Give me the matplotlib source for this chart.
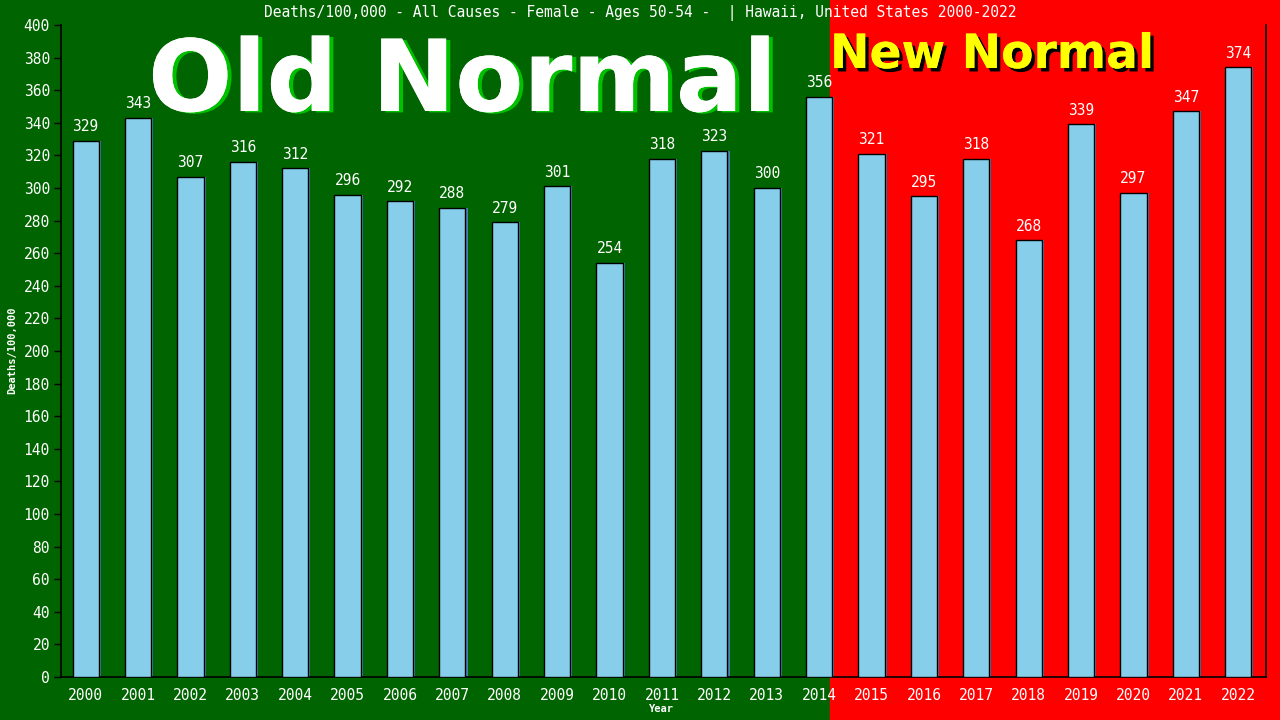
import matplotlib.pyplot as plt
import matplotlib.patheffects as pe
from matplotlib.patches import Rectangle

years = list(range(2000, 2023))
deaths = [329, 343, 307, 316, 312, 296, 292, 288, 279, 301, 254, 318,
          323, 300, 356, 321, 295, 318, 268, 339, 297, 347, 374]
title = "Deaths/100,000 - All Causes - Female - Ages 50-54 -  | Hawaii, United States 2000-2022"

W, H = 1280, 720
fig = plt.figure(figsize=(12.8, 7.2), dpi=100, facecolor='#006400')
fig.patches.append(Rectangle((830 / W, 0), 1 - 830 / W, 1, transform=fig.transFigure,
                             color='#ff0000', zorder=-5))

ax = fig.add_axes([61 / W, 43 / H, 1205 / W, 652 / H])
ax.set_facecolor('none')
x = list(range(len(years)))
ax.bar([i + 0.04 for i in x], deaths, width=0.5, color='#4682b4', zorder=2)
ax.bar(x, deaths, width=0.5, color='#87ceeb', edgecolor='black', linewidth=1, zorder=3)
for i, v in zip(x, deaths):
    ax.text(i, v + 4, str(v), ha='center', va='bottom', color='white',
            family='DejaVu Sans Mono', fontsize=10.5, zorder=4)

ax.set_xlim(-0.47, 22.53)
ax.set_ylim(0, 400)
ax.set_yticks(range(0, 401, 20))
ax.set_xticks(x)
ax.set_xticklabels([str(y) for y in years])
for lab in ax.get_xticklabels() + ax.get_yticklabels():
    lab.set_family('DejaVu Sans Mono')
    lab.set_fontsize(10.5)
    lab.set_color('white')
ax.tick_params(axis='y', length=5, color='black', width=1, pad=3)
ax.tick_params(axis='x', length=0, pad=8)
ax.spines['top'].set_visible(False)
for s in ['left', 'bottom', 'right']:
    ax.spines[s].set_color('black')
    ax.spines[s].set_linewidth(1.2)

fig.text(12 / W, 1 - 350 / H, 'Deaths/100,000', rotation=90, ha='center', va='center',
         color='white', family='DejaVu Sans Mono', fontweight='bold', fontsize=7.5)
fig.text(661 / W, 1 - 709 / H, 'Year', ha='center', va='center',
         color='white', family='DejaVu Sans Mono', fontweight='bold', fontsize=7.5)
fig.text(640 / W, 1 - 13 / H, title, ha='center', va='center', color='white',
         family='DejaVu Sans Mono', fontsize=10.5)

fig.text(148 / W, 1 - 111 / H, 'Old Normal', ha='left', va='baseline', color='white',
         family='DejaVu Sans', fontweight='bold', fontsize=71.5,
         path_effects=[pe.withSimplePatchShadow(offset=(3, -1), shadow_rgbFace='#00c000',
                                                alpha=1), pe.Normal()])
fig.text(830 / W, 1 - 68 / H, 'New Normal', ha='left', va='baseline', color='#ffff00',
         family='DejaVu Sans', fontweight='bold', fontsize=34,
         path_effects=[pe.withSimplePatchShadow(offset=(2.5, -2.5), shadow_rgbFace='black',
                                                alpha=1), pe.Normal()])

fig.savefig('out.png', dpi=100, facecolor=fig.get_facecolor())
